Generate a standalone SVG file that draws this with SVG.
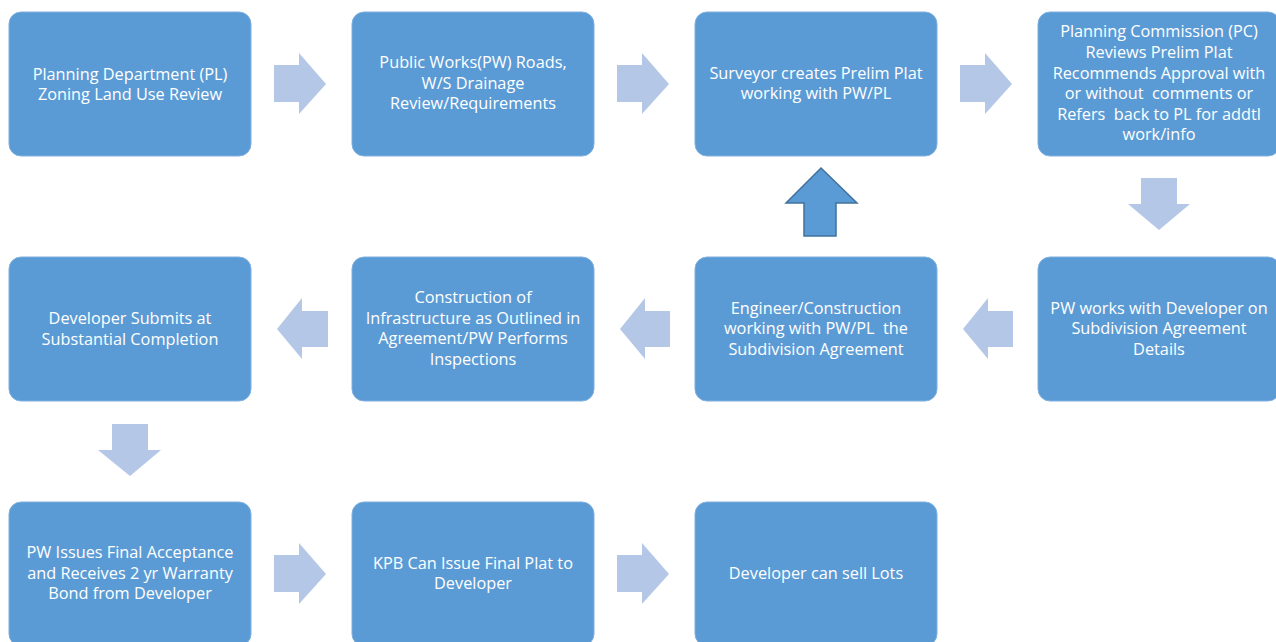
<svg xmlns="http://www.w3.org/2000/svg" width="1276" height="642" viewBox="0 0 1276 642">
<style>
.box{fill:#5B9BD5;stroke:#7FB0E0;stroke-width:1}
.t{font-family:"Open Sans","Noto Sans",sans-serif;font-size:16.3px;fill:#FFFFFF;text-anchor:middle;white-space:pre}
.arr{fill:#B4C7E7}
.up{fill:#5B9BD5;stroke:#41719C;stroke-width:1.5}
</style>
<rect width="1276" height="642" fill="#FFFFFF"/>
<g id="n1"><rect class="box" x="9" y="12" width="242" height="144" rx="12"/>
<text class="t" x="130" y="80">Planning Department (PL)</text>
<text class="t" x="130" y="100">Zoning Land Use Review</text></g>
<g id="n2"><rect class="box" x="352" y="12" width="242" height="144" rx="12"/>
<text class="t" x="473" y="68">Public Works(PW) Roads,</text>
<text class="t" x="473" y="89">W/S Drainage</text>
<text class="t" x="473" y="109">Review/Requirements</text></g>
<g id="n3"><rect class="box" x="695" y="12" width="242" height="144" rx="12"/>
<text class="t" x="816" y="79">Surveyor creates Prelim Plat</text>
<text class="t" x="816" y="99">working with PW/PL</text></g>
<g id="n4"><rect class="box" x="1038" y="12" width="242" height="144" rx="12"/>
<text class="t" x="1159" y="37">Planning Commission (PC)</text>
<text class="t" x="1159" y="58">Reviews Prelim Plat</text>
<text class="t" x="1159" y="79">Recommends Approval with</text>
<text class="t" x="1159" y="99">or without  comments or</text>
<text class="t" x="1159" y="120">Refers  back to PL for addtl</text>
<text class="t" x="1159" y="140">work/info</text></g>
<g id="n5"><rect class="box" x="1038" y="257" width="242" height="144" rx="12"/>
<text class="t" x="1159" y="314">PW works with Developer on</text>
<text class="t" x="1159" y="334">Subdivision Agreement</text>
<text class="t" x="1159" y="355">Details</text></g>
<g id="n6"><rect class="box" x="695" y="257" width="242" height="144" rx="12"/>
<text class="t" x="816" y="314">Engineer/Construction</text>
<text class="t" x="816" y="334">working with PW/PL  the</text>
<text class="t" x="816" y="355">Subdivision Agreement</text></g>
<g id="n7"><rect class="box" x="352" y="257" width="242" height="144" rx="12"/>
<text class="t" x="473" y="303">Construction of</text>
<text class="t" x="473" y="324">Infrastructure as Outlined in</text>
<text class="t" x="473" y="344">Agreement/PW Performs</text>
<text class="t" x="473" y="365">Inspections</text></g>
<g id="n8"><rect class="box" x="9" y="257" width="242" height="144" rx="12"/>
<text class="t" x="130" y="324">Developer Submits at</text>
<text class="t" x="130" y="345">Substantial Completion</text></g>
<g id="n9"><rect class="box" x="9" y="502" width="242" height="144" rx="12"/>
<text class="t" x="130" y="558">PW Issues Final Acceptance</text>
<text class="t" x="130" y="579">and Receives 2 yr Warranty</text>
<text class="t" x="130" y="599">Bond from Developer</text></g>
<g id="n10"><rect class="box" x="352" y="502" width="242" height="144" rx="12"/>
<text class="t" x="473" y="569">KPB Can Issue Final Plat to</text>
<text class="t" x="473" y="589">Developer</text></g>
<g id="n11"><rect class="box" x="695" y="502" width="242" height="144" rx="12"/>
<text class="t" x="816" y="579">Developer can sell Lots</text></g>
<g id="connectors">
<polygon class="arr" points="274,65 299,65 299,53 326,84 299,114 299,102 274,102"/>
<polygon class="arr" points="617,65 642,65 642,53 669,84 642,114 642,102 617,102"/>
<polygon class="arr" points="960,65 985,65 985,53 1012,84 985,114 985,102 960,102"/>
<polygon class="arr" points="1141,178 1177,178 1177,204 1190,204 1159,230 1128,204 1141,204"/>
<polygon class="arr" points="1013,311 1013,347 988,347 988,359 963,329 988,298 988,311"/>
<polygon class="arr" points="670,311 670,347 645,347 645,359 620,329 645,298 645,311"/>
<polygon class="arr" points="328,311 328,347 302,347 302,359 277,329 302,298 302,311"/>
<polygon class="arr" points="112,424 148,424 148,450 161,450 130,476 98,450 112,450"/>
<polygon class="arr" points="274,555 299,555 299,543 326,574 299,604 299,592 274,592"/>
<polygon class="arr" points="617,555 642,555 642,543 669,574 642,604 642,592 617,592"/>
<polygon class="up" points="821,168 857,203 836,203 836,236 804,236 804,203 786,203"/>
</g>
</svg>
